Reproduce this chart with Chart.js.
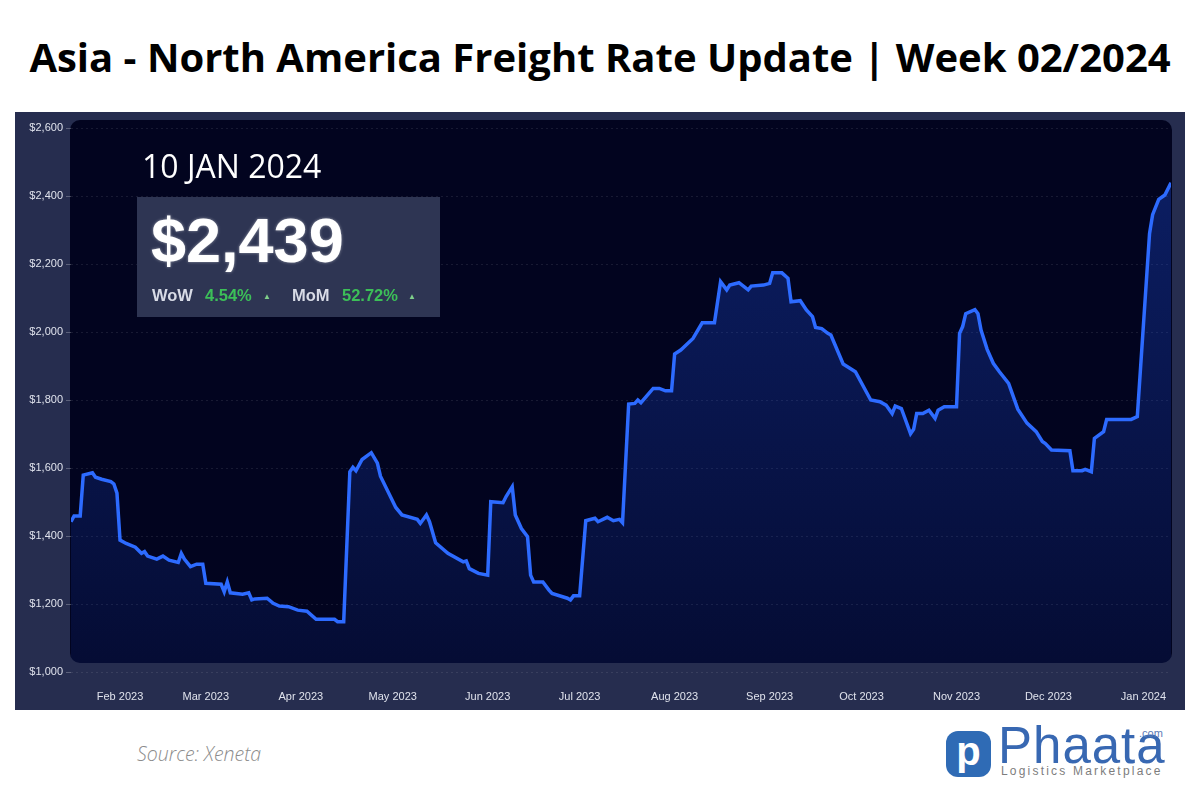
<!DOCTYPE html>
<html lang="en">
<head>
    <meta charset="UTF-8">
    <title>Asia - North America Freight Rate Update</title>
    <script src="https://cdn.jsdelivr.net/npm/chart.js"></script>
    <style>
        body { margin: 0; width: 1200px; height: 800px; background: #fff; position: relative; overflow: hidden; font-family: "Open Sans", sans-serif; }
        #title { position: absolute; left: 0; top: 29px; width: 1200px; text-align: center; font-weight: 700; font-size: 40px; color: #000; line-height: 56px; }
        #panel { position: absolute; left: 15px; top: 112px; width: 1170px; height: 598px; background: #262d4f; }
        #date { position: absolute; left: 142px; top: 144px; font-size: 32px; color: #fff; line-height: 44px; }
        #box { position: absolute; left: 137px; top: 197px; width: 303px; height: 120px; background: #2e3553; }
        #price { position: absolute; left: 14px; top: 7px; font-family: "Liberation Sans", Arial, sans-serif; font-weight: 700; font-size: 63px; color: #fff; line-height: 72px; text-shadow: 0 0 3px rgba(255,255,255,0.5); }
        .d { position: absolute; top: 89px; font-family: "Liberation Sans", Arial, sans-serif; font-weight: 700; font-size: 16.5px; color: #d8dbe6; white-space: pre; }
        .g { color: #3cbf58; }
        .t { color: #7fcf8a; font-size: 8px; top: 95px; }
        #source { position: absolute; left: 137px; top: 740px; font-size: 19.5px; font-style: italic; font-weight: 300; color: #8c8c8c; }
        #logo-icon { position: absolute; left: 946px; top: 731px; width: 45px; height: 46px; background: #2f6bb5; border-radius: 12px; color: #fff; font-family: "Liberation Sans", Arial, sans-serif; font-weight: 700; font-size: 40px; line-height: 40px; text-align: center; }
        #logo-text { position: absolute; left: 998px; top: 716px; font-family: "Liberation Sans", Arial, sans-serif; font-size: 51px; color: #3868b2; letter-spacing: 1px; }
        #logo-com { position: absolute; left: 1139px; top: 727px; font-family: "Liberation Sans", Arial, sans-serif; font-size: 11px; color: #5b7bb8; }
        #logo-sub { position: absolute; left: 1001px; top: 764px; font-family: "Liberation Sans", Arial, sans-serif; font-size: 12px; color: #7d7d7d; letter-spacing: 2.2px; }
    </style>
</head>
<body>
    <div id="title">Asia - North America Freight Rate Update | Week 02/2024</div>
    <div id="panel"><canvas id="chart" width="1170" height="598"></canvas></div>
    <div id="date">10 JAN 2024</div>
    <div id="box">
        <div id="price">$2,439</div>
        <span class="d" style="left:15px">WoW</span>
        <span class="d g" style="left:68px">4.54%</span>
        <span class="d t" style="left:126px">▲</span>
        <span class="d" style="left:155px">MoM</span>
        <span class="d g" style="left:205px">52.72%</span>
        <span class="d t" style="left:271px">▲</span>
    </div>
    <div id="source">Source: Xeneta</div>
    <div id="logo-icon">p</div>
    <div id="logo-text">Phaata</div>
    <div id="logo-com">.com</div>
    <div id="logo-sub">Logistics  Marketplace</div>

    <script>
        // freight rate, USD per FEU
        const rateDates = [
            '2023-01-16', '2023-01-17', '2023-01-19', '2023-01-20', '2023-01-23', '2023-01-24', '2023-01-26', '2023-01-29',
            '2023-01-30', '2023-01-31', '2023-02-01', '2023-02-03', '2023-02-06', '2023-02-08', '2023-02-09', '2023-02-10',
            '2023-02-13', '2023-02-15', '2023-02-17', '2023-02-20', '2023-02-21', '2023-02-22', '2023-02-24', '2023-02-26',
            '2023-02-28', '2023-03-01', '2023-03-06', '2023-03-07', '2023-03-08', '2023-03-09', '2023-03-13', '2023-03-15',
            '2023-03-16', '2023-03-17', '2023-03-21', '2023-03-23', '2023-03-25', '2023-03-28', '2023-03-31', '2023-04-03',
            '2023-04-06', '2023-04-12', '2023-04-13', '2023-04-15', '2023-04-17', '2023-04-18', '2023-04-19', '2023-04-21',
            '2023-04-24', '2023-04-26', '2023-04-27', '2023-05-02', '2023-05-04', '2023-05-09', '2023-05-10', '2023-05-12',
            '2023-05-13', '2023-05-15', '2023-05-19', '2023-05-24', '2023-05-25', '2023-05-26', '2023-05-29', '2023-06-01',
            '2023-06-02', '2023-06-06', '2023-06-07', '2023-06-09', '2023-06-10', '2023-06-12', '2023-06-14', '2023-06-15',
            '2023-06-16', '2023-06-19', '2023-06-21', '2023-06-22', '2023-06-27', '2023-06-28', '2023-06-29', '2023-07-01',
            '2023-07-03', '2023-07-06', '2023-07-07', '2023-07-10', '2023-07-12', '2023-07-14', '2023-07-15', '2023-07-17',
            '2023-07-19', '2023-07-20', '2023-07-21', '2023-07-25', '2023-07-27', '2023-07-29', '2023-07-31', '2023-08-01',
            '2023-08-03', '2023-08-07', '2023-08-10', '2023-08-14', '2023-08-16', '2023-08-18', '2023-08-19', '2023-08-22',
            '2023-08-25', '2023-08-26', '2023-08-30', '2023-09-01', '2023-09-02', '2023-09-05', '2023-09-07', '2023-09-08',
            '2023-09-11', '2023-09-13', '2023-09-15', '2023-09-16', '2023-09-18', '2023-09-20', '2023-09-21', '2023-09-25',
            '2023-09-29', '2023-10-04', '2023-10-07', '2023-10-09', '2023-10-11', '2023-10-12', '2023-10-14', '2023-10-17',
            '2023-10-18', '2023-10-19', '2023-10-21', '2023-10-23', '2023-10-25', '2023-10-26', '2023-10-28', '2023-11-01',
            '2023-11-02', '2023-11-03', '2023-11-04', '2023-11-07', '2023-11-08', '2023-11-09', '2023-11-11', '2023-11-13',
            '2023-11-15', '2023-11-18', '2023-11-21', '2023-11-24', '2023-11-27', '2023-11-29', '2023-11-30', '2023-12-02',
            '2023-12-08', '2023-12-09', '2023-12-12', '2023-12-13', '2023-12-15', '2023-12-16', '2023-12-19', '2023-12-20',
            '2023-12-28', '2023-12-30', '2024-01-03', '2024-01-04', '2024-01-06', '2024-01-08', '2024-01-10'
        ];
        const rateValues = [
            1442, 1459, 1459, 1579, 1586, 1573, 1567, 1560,
            1553, 1526, 1388, 1378, 1367, 1349, 1354, 1341,
            1332, 1341, 1329, 1322, 1349, 1332, 1310, 1317,
            1317, 1261, 1258, 1236, 1265, 1233, 1229, 1233,
            1212, 1215, 1217, 1202, 1194, 1192, 1182, 1179,
            1155, 1155, 1148, 1148, 1589, 1602, 1592, 1625,
            1645, 1614, 1576, 1484, 1462, 1449, 1437, 1462,
            1442, 1380, 1349, 1324, 1327, 1304, 1290, 1285,
            1501, 1498, 1516, 1545, 1462, 1422, 1398, 1285,
            1265, 1265, 1241, 1231, 1217, 1212, 1224, 1224,
            1445, 1452, 1442, 1455, 1445, 1449, 1439, 1788,
            1790, 1800, 1792, 1834, 1834, 1827, 1827, 1935,
            1947, 1981, 2027, 2027, 2148, 2124, 2138, 2145,
            2124, 2135, 2138, 2143, 2174, 2174, 2158, 2089,
            2092, 2065, 2045, 2013, 2010, 1996, 1991, 1906,
            1883, 1800, 1795, 1785, 1760, 1782, 1775, 1701,
            1714, 1760, 1760, 1770, 1746, 1770, 1780, 1780,
            1996, 2016, 2054, 2066, 2054, 2006, 1949, 1908,
            1883, 1849, 1773, 1732, 1707, 1678, 1672, 1653,
            1651, 1592, 1592, 1596, 1589, 1687, 1707, 1743,
            1743, 1751, 2290, 2345, 2390, 2403, 2439
        ];
        const tickDates = ['2023-02-01', '2023-03-01', '2023-04-01', '2023-05-01', '2023-06-01', '2023-07-01',
                           '2023-08-01', '2023-09-01', '2023-10-01', '2023-11-01', '2023-12-01', '2024-01-01'];
        const tickLabels = ['Feb 2023', 'Mar 2023', 'Apr 2023', 'May 2023', 'Jun 2023', 'Jul 2023',
                            'Aug 2023', 'Sep 2023', 'Oct 2023', 'Nov 2023', 'Dec 2023', 'Jan 2024'];

        // days since 1 Feb 2023 (linear x axis, no date adapter available)
        const base = Date.UTC(2023, 1, 1);
        function dayOf(s) {
            const p = s.split('-');
            return Math.round((Date.UTC(+p[0], +p[1] - 1, +p[2]) - base) / 86400000);
        }
        const points = rateDates.map((d, i) => ({ x: dayOf(d), y: rateValues[i] }));
        const tickDays = tickDates.map(dayOf);

        function roundRect(ctx, x, y, w, h, r) {
            ctx.beginPath();
            ctx.moveTo(x + r, y);
            ctx.arcTo(x + w, y, x + w, y + h, r);
            ctx.arcTo(x + w, y + h, x, y + h, r);
            ctx.arcTo(x, y + h, x, y, r);
            ctx.arcTo(x, y, x + w, y, r);
            ctx.closePath();
        }

        // dark rounded plot background, also used to clip the area fill
        const plotBg = {
            id: 'plotBg',
            beforeDraw(chart) {
                const a = chart.chartArea, ctx = chart.ctx;
                ctx.save();
                roundRect(ctx, a.left - 1, a.top - 8, a.right - a.left + 2, a.bottom - a.top - 1, 10);
                ctx.fillStyle = '#02041f';
                ctx.fill();
                ctx.restore();
            },
            beforeDatasetsDraw(chart) {
                const a = chart.chartArea, ctx = chart.ctx;
                ctx.save();
                roundRect(ctx, a.left - 1, a.top - 8, a.right - a.left + 2, a.bottom - a.top - 1, 10);
                ctx.clip();
            },
            afterDatasetsDraw(chart) {
                chart.ctx.restore();
            }
        };

        const ctx = document.getElementById('chart').getContext('2d');
        new Chart(ctx, {
            type: 'line',
            data: {
                datasets: [{
                    data: points,
                    borderColor: '#2d6bff',
                    borderWidth: 3.5,
                    pointRadius: 0,
                    tension: 0,
                    fill: 'start',
                    backgroundColor: function(c) {
                        const a = c.chart.chartArea;
                        if (!a) return 'rgba(25,70,220,0.2)';
                        const g = c.chart.ctx.createLinearGradient(0, a.top, 0, a.bottom);
                        g.addColorStop(0, 'rgba(30,80,230,0.36)');
                        g.addColorStop(1, 'rgba(30,80,230,0.10)');
                        return g;
                    }
                }]
            },
            options: {
                responsive: false,
                animation: false,
                layout: { padding: { top: 16, right: 14, left: 0, bottom: 0 } },
                plugins: { legend: { display: false }, tooltip: { enabled: false } },
                scales: {
                    x: {
                        type: 'linear',
                        min: dayOf('2023-01-16'),
                        max: dayOf('2024-01-10'),
                        afterBuildTicks: s => { s.ticks = tickDays.map(v => ({ value: v })); },
                        afterFit: s => { s.height = 38; s.paddingLeft = 0; s.paddingRight = 0; },
                        grid: { display: false },
                        border: { display: false },
                        ticks: {
                            autoSkip: false,
                            maxRotation: 0,
                            padding: 10,
                            color: '#dfe2ec',
                            font: { family: 'Liberation Sans', size: 11 },
                            callback: v => tickLabels[tickDays.indexOf(v)]
                        }
                    },
                    y: {
                        min: 1000,
                        max: 2600,
                        afterFit: s => { s.width = 56; },
                        border: { display: false, dash: [2, 3] },
                        grid: {
                            color: 'rgba(255,255,255,0.09)',
                            tickColor: 'rgba(255,255,255,0.25)',
                            tickLength: 5,
                            tickBorderDash: [0, 0]
                        },
                        ticks: {
                            stepSize: 200,
                            padding: 3,
                            color: '#dfe2ec',
                            font: { family: 'Liberation Sans', size: 11 },
                            callback: v => '$' + v.toLocaleString('en-US')
                        }
                    }
                }
            },
            plugins: [plotBg]
        });
    </script>
</body>
</html>
